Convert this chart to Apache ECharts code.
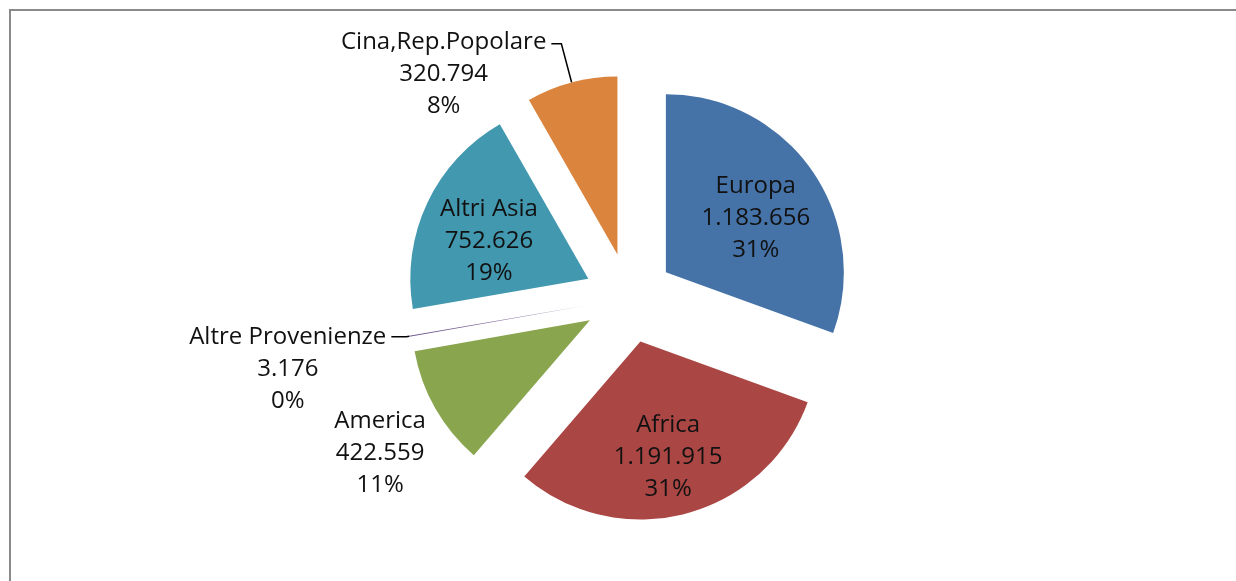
<!DOCTYPE html>
<html>
<head>
<meta charset="utf-8">
<script src="https://cdn.jsdelivr.net/npm/echarts@6/dist/echarts.min.js"></script>
<style>
  html, body { margin: 0; padding: 0; background: #fff; }
  #chart { width: 1236px; height: 581px; }
</style>
</head>
<body>
<div id="chart"></div>
<script>
// dati: provenienze
const areas = ['Europa', 'Africa', 'America', 'Altre Provenienze', 'Altri Asia', 'Cina,Rep.Popolare'];
const values = [1183656, 1191915, 422559, 3176, 752626, 320794];
const colors = ['#4572A7', '#AA4643', '#89A54E', '#71588F', '#4198AF', '#DB843D'];
const insideAreas = ['Europa', 'Africa', 'Altri Asia'];

const radius = 178;
const lineH = 32;

// angolo medio di ogni fetta (serve solo per spostare un po' le etichette interne)
const total = values.reduce((a, b) => a + b, 0);
const midAngle = [];
let acc = 0;
values.forEach(v => {
    const span = v / total * Math.PI * 2;
    midAngle.push(acc + span / 2);
    acc += span;
});

// 1183656 -> 1.183.656
const fmt = v => String(v).replace(/\B(?=(\d{3})+(?!\d))/g, '.');

// leader line per le etichette esterne
const lineCfg = {
    'Cina,Rep.Popolare': { show: true, length: 40, length2: 10 },
    'Altre Provenienze': { show: true, length: 3, length2: 15 },
    'America': { show: false, length: 5, length2: 0 }
};
// piccolo aggiustamento verticale delle etichette esterne
const extraDy = { 'Cina,Rep.Popolare': -2, 'Altre Provenienze': 0, 'America': 10 };

const data = areas.map((name, i) => {
    const inside = insideAreas.indexOf(name) >= 0;
    return {
        name: name,
        value: values[i],
        selected: true,
        itemStyle: { color: colors[i] },
        label: { position: inside ? 'inside' : 'outside' },
        labelLine: inside ? { show: false } : lineCfg[name]
    };
});

var myChart = echarts.init(document.getElementById('chart'));

var option = {
    animation: false,
    backgroundColor: '#fff',
    graphic: [{
        type: 'rect',
        shape: { x: 10, y: 10, width: 1400, height: 800 },
        style: { fill: 'none', stroke: '#8a8a8a', lineWidth: 2 },
        silent: true
    }],
    series: [{
        type: 'pie',
        center: [629, 298],
        radius: radius,
        startAngle: 90,
        clockwise: true,
        selectedMode: 'multiple',
        selectedOffset: 45,
        avoidLabelOverlap: false,
        percentPrecision: 0,
        itemStyle: { borderWidth: 0 },
        emphasis: { disabled: true },
        label: {
            fontFamily: 'Open Sans',
            fontSize: 24,
            lineHeight: lineH,
            color: '#111',
            align: 'center',
            formatter: p => p.name + '\n' + fmt(p.value) + '\n' + p.percent + '%'
        },
        labelLine: {
            lineStyle: { color: '#000', width: 1.5 }
        },
        labelLayout: function (params) {
            const i = params.dataIndex;
            const rect = params.labelRect;
            if (insideAreas.indexOf(areas[i]) >= 0) {
                const s = radius * 0.1;
                return { dx: Math.sin(midAngle[i]) * s, dy: -Math.cos(midAngle[i]) * s + 9 };
            }
            // testo centrato, prima riga all'altezza della linea guida
            let dx = 0;
            if (params.align === 'right') dx = -rect.width / 2;
            if (params.align === 'left') dx = rect.width / 2;
            return {
                align: 'center',
                dx: dx,
                dy: rect.height / 2 - lineH / 2 + extraDy[areas[i]],
                labelLinePoints: params.labelLinePoints
            };
        },
        data: data
    }]
};

myChart.setOption(option);
</script>
</body>
</html>
